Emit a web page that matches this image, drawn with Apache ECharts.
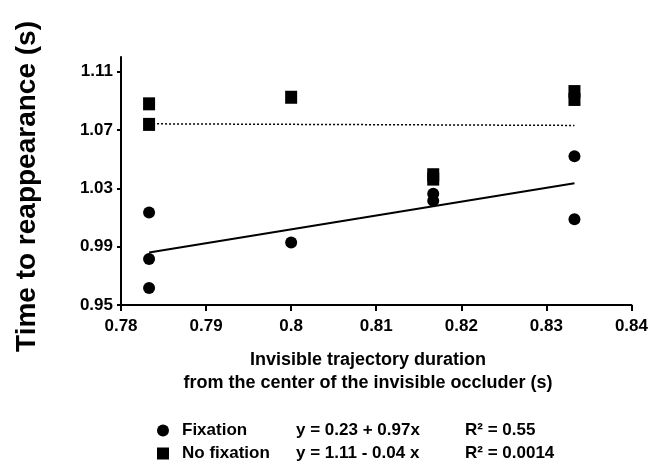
<!DOCTYPE html>
<html>
<head>
<meta charset="utf-8">
<script src="https://cdn.jsdelivr.net/npm/echarts@6/dist/echarts.min.js"></script>
<style>
html,body{margin:0;padding:0;background:#fff;}
#chart{width:651px;height:462px;}
</style>
</head>
<body>
<div id="chart"></div>
<script>
// ---- data ----
var fixX = [0.7833, 0.7833, 0.7833, 0.8, 0.8167, 0.8167, 0.8333, 0.8333];
var fixY = [1.0134, 0.9815, 0.9616, 0.9929, 1.0262, 1.0215, 1.0519, 1.0088];
var noFixX = [0.7833, 0.7833, 0.8, 0.8167, 0.8167, 0.8333, 0.8333];
var noFixY = [1.0879, 1.0738, 1.0924, 1.0393, 1.0363, 1.0963, 1.0909];
var fixTrendX = [0.7833, 0.8333];
var fixTrendY = [0.986, 1.0335];
var noFixTrendX = [0.7833, 0.8333];
var noFixTrendY = [1.0742, 1.0731];
var xTicks = [0.78, 0.79, 0.80, 0.81, 0.82, 0.83, 0.84];
var yTicks = [0.95, 0.99, 1.03, 1.07, 1.11];
var seriesNames = ['Fixation', 'No fixation'];
var equations = ['y = 0.23 + 0.97x', 'y = 1.11 - 0.04 x'];
var rSquared = ['R\u00b2 = 0.55', 'R\u00b2 = 0.0014'];
var xTitle = 'Invisible trajectory duration\nfrom the center of the invisible occluder (s)';
var yTitle = 'Time to reappearance (s)';

function pairs(xs, ys) { return xs.map(function (x, i) { return [x, ys[i]]; }); }

var FONT = '"Liberation Sans", Arial, sans-serif';
var chart = echarts.init(document.getElementById('chart'), null, {renderer: 'canvas'});

var legendRich = {
  a: {width: 114, padding: [0, 0, 0, 8], fontSize: 17, fontWeight: 'bold', color: '#000', fontFamily: FONT},
  b: {width: 169, fontSize: 17, fontWeight: 'bold', color: '#000', fontFamily: FONT},
  c: {fontSize: 17, fontWeight: 'bold', color: '#000', fontFamily: FONT}
};
function legendFor(i, icon, top) {
  return {
    orient: 'horizontal', left: 152, top: top, itemWidth: 12, itemHeight: 12,
    data: [{name: seriesNames[i], icon: icon}],
    selectedMode: false,
    formatter: function (name) {
      var k = seriesNames.indexOf(name);
      return '{a|' + name + '}{b|' + equations[k] + '}{c|' + rSquared[k] + '}';
    },
    textStyle: {color: '#000', fontSize: 17, fontWeight: 'bold', fontFamily: FONT, rich: legendRich}
  };
}

chart.setOption({
  animation: false,
  backgroundColor: '#ffffff',
  textStyle: {fontFamily: FONT},
  grid: {left: 121, right: 18, top: 57, bottom: 157, containLabel: false},
  xAxis: {
    type: 'value', min: 0.78, max: 0.84, interval: 0.01,
    axisLine: {show: true, lineStyle: {color: '#000', width: 2}},
    axisTick: {show: true, length: 6, lineStyle: {color: '#000', width: 2}},
    axisLabel: {color: '#000', fontSize: 17, fontWeight: 'bold', fontFamily: FONT, margin: 13,
      formatter: function (v) { return String(+v.toFixed(2)); }},
    splitLine: {show: false}
  },
  yAxis: {
    type: 'value', min: 0.95, max: 1.12,
    axisLine: {show: true, lineStyle: {color: '#000', width: 2}},
    axisTick: {show: true, length: 4, inside: false, customValues: yTicks, lineStyle: {color: '#000', width: 2}},
    axisLabel: {color: '#000', fontSize: 17, fontWeight: 'bold', fontFamily: FONT, margin: 8,
      customValues: yTicks,
      formatter: function (v) { return v.toFixed(2); }},
    splitLine: {show: false}
  },
  legend: [legendFor(0, 'circle', 417), legendFor(1, 'rect', 440)],
  graphic: [
    {type: 'text', x: 368, y: 349,
      style: {text: xTitle, font: 'bold 18px ' + FONT, fill: '#000', align: 'center', verticalAlign: 'top', lineHeight: 23}},
    {type: 'text', x: 27, y: 186.5, rotation: Math.PI / 2,
      style: {text: yTitle, font: 'bold 28px ' + FONT, fill: '#000', align: 'center', verticalAlign: 'middle'}}
  ],
  series: [
    {name: seriesNames[0], type: 'scatter', data: pairs(fixX, fixY), symbol: 'circle', symbolSize: 12,
      itemStyle: {color: '#000', opacity: 1}, z: 5},
    {name: seriesNames[1], type: 'scatter', data: pairs(noFixX, noFixY), symbol: 'rect', symbolSize: [12, 13],
      itemStyle: {color: '#000', opacity: 1}, z: 5},
    {name: 'fixTrend', type: 'line', data: pairs(fixTrendX, fixTrendY), showSymbol: false, symbol: 'none',
      lineStyle: {color: '#000', width: 2, type: 'solid'}, z: 3},
    {name: 'noFixTrend', type: 'line', data: pairs(noFixTrendX, noFixTrendY), showSymbol: false, symbol: 'none',
      lineStyle: {color: '#000', width: 1.5, type: [2, 2]}, z: 3}
  ]
});
</script>
</body>
</html>
